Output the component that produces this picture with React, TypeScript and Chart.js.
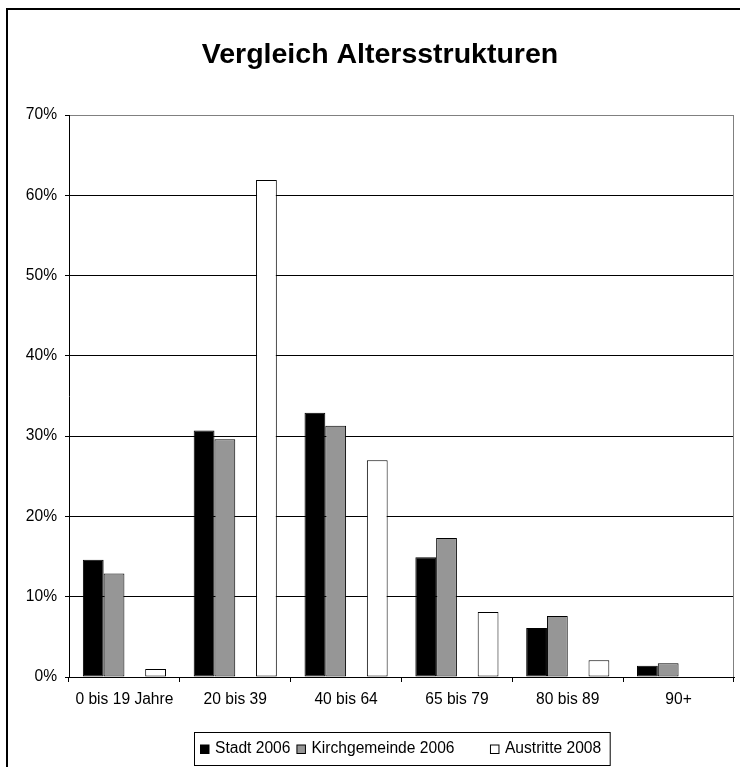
import React, { useEffect, useRef } from "react";
import { Chart, registerables } from "chart.js";

Chart.register(...registerables);

const title = "Vergleich Altersstrukturen";
const categories = ["0 bis 19 Jahre", "20 bis 39", "40 bis 64", "65 bis 79", "80 bis 89", "90+"];
const stadt2006 = [14.6, 30.7, 32.9, 14.9, 6.1, 1.4];
const kirchgemeinde2006 = [12.9, 29.6, 31.3, 17.3, 7.6, 1.7];
const leerreihe: (number | null)[] = [null, null, null, null, null, null];
const austritte2008 = [1.0, 61.9, 27.0, 8.1, 2.1, 0];
const yMax = 70;
const yStep = 10;

const FONT = '"Liberation Sans", Arial, sans-serif';
const W = 760;
const H = 780;

const decorPlugin = {
  id: "decor",
  beforeDraw(chart: any) {
    const ctx = chart.ctx;
    ctx.save();
    ctx.fillStyle = "#ffffff";
    ctx.fillRect(0, 0, chart.width, chart.height);
    ctx.restore();
  },
  afterDraw(chart: any) {
    const ctx = chart.ctx;
    const ca = chart.chartArea;
    ctx.save();
    // plot area right border (gray)
    ctx.strokeStyle = "#808080";
    ctx.lineWidth = 1;
    ctx.beginPath();
    ctx.moveTo(Math.round(ca.right) - 0.5, ca.top);
    ctx.lineTo(Math.round(ca.right) - 0.5, ca.bottom);
    ctx.stroke();

    // outer border
    ctx.strokeStyle = "#000";
    ctx.lineWidth = 2;
    ctx.strokeRect(7, 9, 746, 780);

    // title
    ctx.fillStyle = "#000";
    ctx.font = `bold 28.5px ${FONT}`;
    ctx.textAlign = "center";
    ctx.textBaseline = "alphabetic";
    ctx.fillText(title, 380, 63);

    // legend
    const fs = 15.6;
    ctx.font = `${fs}px ${FONT}`;
    ctx.textAlign = "left";
    const padL = 6, padR = 9, sq = 8.5, sqGap = 6, itemGap = 6.5, blank = 23;
    const items = chart.data.datasets.map((ds: any) => ({
      label: ds.label as string,
      bg: ds.backgroundColor as string,
      w: ds.label ? sq + sqGap + ctx.measureText(ds.label).width : blank,
    }));
    let total = padL + padR;
    items.forEach((it: any, i: number) => {
      total += it.w + (i > 0 ? itemGap : 0);
    });
    const cx = (ca.left + ca.right) / 2;
    const bx = Math.round(cx - total / 2) + 0.5;
    const by = 732.5;
    const bh = 33;
    ctx.fillStyle = "#fff";
    ctx.fillRect(bx, by, total, bh);
    ctx.strokeStyle = "#000";
    ctx.lineWidth = 1;
    ctx.strokeRect(bx, by, total, bh);
    let x = bx + padL;
    items.forEach((it: any, i: number) => {
      if (i > 0) x += itemGap;
      if (it.label) {
        ctx.fillStyle = it.bg;
        ctx.fillRect(x, by + 12.5, sq, sq);
        ctx.strokeStyle = "#000";
        ctx.strokeRect(x, by + 12.5, sq, sq);
        ctx.fillStyle = "#000";
        ctx.fillText(it.label, x + sq + sqGap, by + 20.3);
      }
      x += it.w;
    });
    ctx.restore();
  },
};

export default function App() {
  const ref = useRef<HTMLCanvasElement | null>(null);
  useEffect(() => {
    if (!ref.current) return;
    const chart = new Chart(ref.current, {
      type: "bar",
      data: {
        labels: categories,
        datasets: [
          { label: "Stadt 2006", data: stadt2006, backgroundColor: "#000000", borderColor: "#000", borderWidth: 1, borderSkipped: false },
          { label: "Kirchgemeinde 2006", data: kirchgemeinde2006, backgroundColor: "#969696", borderColor: "#000", borderWidth: 1, borderSkipped: false },
          { label: "", data: leerreihe, backgroundColor: "#ffffff", borderWidth: 0 },
          { label: "Austritte 2008", data: austritte2008, backgroundColor: "#ffffff", borderColor: "#000", borderWidth: 1, borderSkipped: false },
        ] as any,
      },
      options: {
        responsive: false,
        animation: false,
        devicePixelRatio: 1,
        layout: { padding: { left: 0, right: 26, top: 115, bottom: 0 } },
        datasets: { bar: { categoryPercentage: 0.75, barPercentage: 1 } },
        plugins: { legend: { display: false }, title: { display: false }, tooltip: { enabled: false } },
        scales: {
          x: {
            afterFit: (s: any) => { s.height = 103; },
            grid: { offset: true, drawOnChartArea: false, tickLength: 5, color: "#000" },
            border: { color: "#000", width: 1 },
            ticks: { color: "#000", font: { family: FONT, size: 15.6 }, padding: 8, maxRotation: 0, autoSkip: false },
          },
          y: {
            min: 0,
            max: yMax,
            afterFit: (s: any) => { s.width = 69; },
            grid: {
              color: (c: any) => (c.tick && c.tick.value === yMax ? "#808080" : "#000"),
              tickLength: 4,
              tickColor: "#000",
            },
            border: { color: "#000", width: 1 },
            ticks: {
              stepSize: yStep,
              color: "#000",
              font: { family: FONT, size: 15.6 },
              padding: 8,
              callback: (v: any) => `${v}%`,
            },
          },
        },
      },
      plugins: [decorPlugin],
    });
    return () => chart.destroy();
  }, []);
  return (
    <div style={{ position: "absolute", left: 0, top: 0, width: 740, height: 767, overflow: "hidden", background: "#fff" }}>
      <canvas ref={ref} width={W} height={H} style={{ display: "block", width: W, height: H }} />
    </div>
  );
}
